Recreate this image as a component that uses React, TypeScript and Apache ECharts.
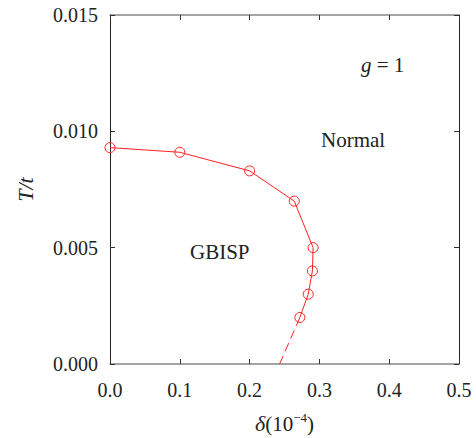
import React, { useEffect, useRef } from "react";
import * as echarts from "echarts";

const deltaValues = [0.0, 0.1, 0.2, 0.264, 0.291, 0.29, 0.284, 0.272];
const tValues = [0.0093, 0.0091, 0.0083, 0.007, 0.005, 0.004, 0.003, 0.002];
const dashDelta = [0.272, 0.243];
const dashT = [0.002, 0.0];

const FONT = "'Liberation Serif', 'Times New Roman', serif";
const RED = "#ff2020";
const XAXIS = "#888";
const YAXIS = "#222";
const TEXT = "#222";

export default function App() {
  const ref = useRef<HTMLDivElement>(null);
  useEffect(() => {
    if (!ref.current) return;
    const chart = echarts.init(ref.current, undefined, { renderer: "svg" });
    const mainData = deltaValues.map((d, i) => [d, tValues[i]]);
    const dashData = dashDelta.map((d, i) => [d, dashT[i]]);
    const xLine = { show: true, onZero: false, lineStyle: { color: XAXIS, width: 1.5 } };
    const yLine = { show: true, onZero: false, lineStyle: { color: YAXIS, width: 1 } };
    const xTick = { show: true, inside: true, length: 5, lineStyle: { color: "#333" } };
    const yTick = { show: true, inside: true, length: 5, lineStyle: { color: "#333" } };
    chart.setOption({
      animation: false,
      backgroundColor: "#fff",
      grid: { left: 110, right: 17, top: 15, bottom: 74, containLabel: false, outerBoundsMode: "none" },
      xAxis: [
        {
          type: "value",
          min: 0,
          max: 0.5,
          interval: 0.1,
          axisLine: xLine,
          axisTick: xTick,
          splitLine: { show: false },
          axisLabel: {
            color: TEXT,
            fontFamily: FONT,
            fontSize: 20,
            margin: 16,
            formatter: (v: number) => v.toFixed(1),
          },
          name: "{d|δ}{n|(10}{s|−4}{n|)}",
          nameLocation: "middle",
          nameGap: 47,
          nameTextStyle: {
            rich: {
              d: { fontFamily: FONT, fontSize: 22, fontStyle: "italic", color: TEXT },
              n: { fontFamily: FONT, fontSize: 21, color: TEXT },
              s: { fontFamily: FONT, fontSize: 13, color: TEXT, verticalAlign: "top", padding: [0, 0, 12, 0] },
            },
          },
        },
        {
          type: "value",
          position: "top",
          min: 0,
          max: 0.5,
          interval: 0.1,
          axisLine: xLine,
          axisTick: xTick,
          axisLabel: { show: false },
          splitLine: { show: false },
        },
      ],
      yAxis: [
        {
          type: "value",
          min: 0,
          max: 0.015,
          interval: 0.005,
          axisLine: yLine,
          axisTick: yTick,
          splitLine: { show: false },
          axisLabel: {
            color: TEXT,
            fontFamily: FONT,
            fontSize: 20,
            margin: 12,
            formatter: (v: number) => v.toFixed(3),
          },
          name: "T/t",
          nameLocation: "middle",
          nameGap: 74,
          nameRotate: 90,
          nameTextStyle: { fontFamily: FONT, fontSize: 22, fontStyle: "italic", color: TEXT },
        },
        {
          type: "value",
          position: "right",
          min: 0,
          max: 0.015,
          interval: 0.005,
          axisLine: yLine,
          axisTick: yTick,
          axisLabel: { show: false },
          splitLine: { show: false },
        },
      ],
      series: [
        {
          type: "line",
          data: mainData,
          symbol: "circle",
          symbolSize: 10,
          lineStyle: { color: RED, width: 1 },
          itemStyle: { color: "rgba(0,0,0,0)", borderColor: RED, borderWidth: 1 },
        },
        {
          type: "line",
          data: dashData,
          symbol: "none",
          lineStyle: { color: RED, width: 1, type: [9, 5] },
        },
      ],
      graphic: [
        {
          type: "text",
          left: 361,
          top: 54,
          style: {
            text: "{i|g} = 1",
            rich: { i: { fontFamily: FONT, fontSize: 21, fontStyle: "italic", fill: TEXT } },
            font: `21px ${FONT}`,
            fill: TEXT,
          },
        },
        {
          type: "text",
          left: 321,
          top: 129,
          style: { text: "Normal", font: `21px ${FONT}`, fill: TEXT },
        },
        {
          type: "text",
          left: 190,
          top: 241,
          style: { text: "GBISP", font: `21px ${FONT}`, fill: TEXT },
        },
      ],
    });
    return () => chart.dispose();
  }, []);
  return (
    <div
      ref={ref}
      style={{ position: "fixed", left: 0, top: 0, width: 476, height: 438 }}
    />
  );
}
